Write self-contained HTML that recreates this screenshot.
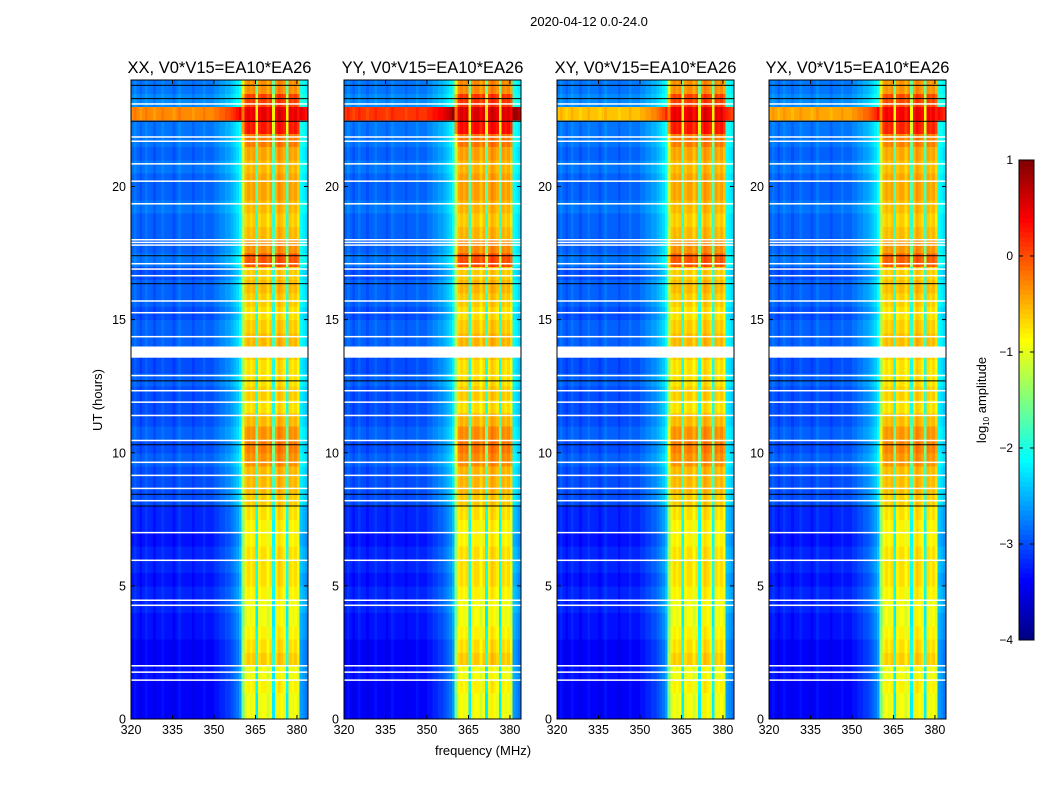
<!DOCTYPE html>
<html><head><meta charset="utf-8">
<style>
body{margin:0;background:#fff;}
svg{display:block;font-family:"Liberation Sans",sans-serif;}
</style></head>
<body>
<svg id="fig" width="1050" height="800" viewBox="0 0 1050 800">
<rect width="1050" height="800" fill="#fff"/>
<text x="589" y="26" font-size="13" text-anchor="middle">2020-04-12 0.0-24.0</text>
<text x="483" y="755" font-size="13" text-anchor="middle">frequency (MHz)</text>
<text transform="translate(102,400) rotate(-90)" font-size="13" text-anchor="middle">UT (hours)</text>
<g id="panels"></g>
<g id="cbar"></g>
<text transform="translate(986,400) rotate(-90)" font-size="13" text-anchor="middle">log<tspan font-size="8" dy="3">10</tspan><tspan dy="-3"> amplitude</tspan></text>
</svg>
<script>
// ---- data ----
const panelTitles = ["XX, V0*V15=EA10*EA26","YY, V0*V15=EA10*EA26","XY, V0*V15=EA10*EA26","YX, V0*V15=EA10*EA26"];
const panelBroad = [1.0, 1.15, 0.9, 0.95];
const panelBand = [1.0, 1.05, 1.0, 0.95];
const xTicks = [320,335,350,365,380];
const yTicks = [0,5,10,15,20];
// channel base log10 amplitude, 1 MHz channels 320..384
const chanLevel = [
-3.1,-3.0,-3.1,-3.2,-3.1,-3.0,-3.1,-3.1,-3.2,-3.1,
-3.1,-3.0,-3.1,-3.1,-3.1,-3.2,-3.1,-3.0,-3.1,-3.1,
-3.1,-3.1,-3.2,-3.1,-3.1,-3.1,-3.0,-3.1,-3.1,-3.1,
-3.0,-3.0,-2.9,-2.9,-2.8,-2.8,-2.7,-2.6,-2.5,-2.3,
-1.6,-1.0,-0.9,-1.0,-0.9,-2.2,-1.0,-0.9,-0.9,-1.1,
-0.9,-2.2,-1.0,-0.8,-0.9,-1.0,-2.2,-0.9,-1.0,-0.9,
-1.1,-2.3,-2.4,-2.5];
const isBand = [
0,0,0,0,0,0,0,0,0,0, 0,0,0,0,0,0,0,0,0,0, 0,0,0,0,0,0,0,0,0,0,
0,0,0,0,0,0,0,0,0,0, 1,1,1,1,1,1,1,1,1,1, 1,1,1,1,1,1,1,1,1,1, 1,0,0,0];
// half-hour rows 0..24 h
const rowBand = [0.0,0.0,0.1,0.0,0.3,0.2,0.1,0.0,0.0,0.1,0.2,0.2,0.2,0.1,0.1,0.2,
0.3,0.4,0.4,0.6,0.7,0.6,0.4,0.2,0.3,0.2,0.2,0.3,0.4,0.3,0.2,0.3,
0.4,0.3,0.9,0.6,0.4,0.3,0.4,0.5,0.5,0.4,0.5,0.7,1.2,1.4,1.0,0.6];
const rowBg = [-0.3,-0.3,-0.3,-0.2,-0.3,-0.3,-0.2,-0.2,-0.1,-0.1,-0.2,-0.1,-0.1,-0.2,-0.1,-0.1,
0.1,0.1,0.1,0.2,0.1,0.2,0.1,0.1,0.1,0.2,0.1,0.1,0.2,0.2,0.1,0.2,
0.2,0.1,0.3,0.2,0.2,0.2,0.3,0.2,0.2,0.3,0.2,0.3,0.3,2.8,0.4,0.3];
const flagWhite = [23.1,21.86,21.7,20.85,20.2,19.35,18.0,17.9,17.8,17.1,16.9,16.65,15.7,15.26,14.36,12.9,12.33,11.9,11.4,10.46,9.64,9.15,8.66,8.2,7.0,5.96,4.46,4.27,2.0,1.76,1.46];
const flagWhiteThick = [[13.57,0.42]];
const flagBlack = [23.8,23.3,22.45,17.4,16.35,12.7,10.3,8.44,8.0];
const cbTicks = [-4,-3,-2,-1,0,1];

// ---- helpers ----
const NS="http://www.w3.org/2000/svg";
function mk(tag,attrs,parent){const e=document.createElementNS(NS,tag);for(const k in attrs)e.setAttribute(k,attrs[k]);parent.appendChild(e);return e;}
function clamp(v){return Math.max(0,Math.min(1,v));}
function jet(v){const t=clamp((v+4)/5);const r=clamp(1.5-Math.abs(4*t-3)),g=clamp(1.5-Math.abs(4*t-2)),b=clamp(1.5-Math.abs(4*t-1));
return `rgb(${Math.round(r*255)},${Math.round(g*255)},${Math.round(b*255)})`;}
const panelsX=[131,344,557,769], PW=177, PT=80, PB=719;
const fMin=320, fMax=384, tMin=0, tMax=24;

const root=document.getElementById('panels');
panelTitles.forEach((title,p)=>{
  const x0=panelsX[p];
  const xs=f=>x0+(f-fMin)/(fMax-fMin)*PW;
  const ys=t=>PB-(t-tMin)/(tMax-tMin)*(PB-PT);
  const g=mk('g',{},root);
  
  
  const cells=mk('g',{'shape-rendering':'crispEdges'},g);
  
  
  for(let r=0;r<rowBand.length;r++){
    const t0=r*0.5,t1=t0+0.5;
    for(let c=0;c<chanLevel.length;c++){
      const f0=fMin+c,f1=f0+1;
      let v=chanLevel[c];
      if(isBand[c]) v+=rowBand[r]*panelBand[p]; else v+=rowBg[r]*(rowBg[r]>1?panelBroad[p]:1);
      const rc=mk('rect',{x:xs(f0),y:ys(t1),width:xs(f1)-xs(f0)+0.5,height:ys(t0)-ys(t1)+0.5,fill:jet(v)},cells);
      
      
    }
  }
  flagWhite.forEach(h=>{const l=mk('rect',{x:x0,y:ys(h)-0.75,width:PW,height:1.5,fill:'#fff'},g);
    
    });
  flagWhiteThick.forEach(([h,w])=>{const l=mk('rect',{x:x0,y:ys(h+w),width:PW,height:ys(h)-ys(h+w),fill:'#fff'},g);
    
    });
  flagBlack.forEach(h=>{const l=mk('rect',{x:x0,y:ys(h)-0.5,width:PW,height:1,fill:'#000'},g);
    
    });
  const fr=mk('rect',{x:x0,y:PT,width:PW,height:PB-PT,fill:'none',stroke:'#000','stroke-width':1},g);
  
  
  const tt=mk('text',{x:x0+PW/2,y:73,'font-size':16.5,'text-anchor':'middle'},g);tt.textContent=title;
  
  
  xTicks.forEach(f=>{const x=xs(f);
    mk('line',{x1:x,x2:x,y1:PB,y2:PB-4,stroke:'#000'},g);
    mk('line',{x1:x,x2:x,y1:PT,y2:PT+4,stroke:'#000'},g);
    const tx=mk('text',{x:x,y:PB+15,'font-size':12.5,'text-anchor':'middle'},g);tx.textContent=f;
    
    });
  yTicks.forEach(t=>{const y=ys(t);
    mk('line',{x1:x0,x2:x0+4,y1:y,y2:y,stroke:'#000'},g);
    mk('line',{x1:x0+PW,x2:x0+PW-4,y1:y,y2:y,stroke:'#000'},g);
    const tx=mk('text',{x:x0-5,y:y+4.5,'font-size':12.5,'text-anchor':'end'},g);tx.textContent=t;
    
    });
});

// colorbar
const cb=document.getElementById('cbar');
const cbX=1019,cbW=15,cbT=160,cbB=640;
const cys=v=>cbB-(v+4)/5*(cbB-cbT);
for(let i=0;i<100;i++){const v0=-4+i*0.05,v1=v0+0.05;
  const r=mk('rect',{x:cbX,y:cys(v1),width:cbW,height:cys(v0)-cys(v1)+0.5,fill:jet(v0+0.025),'shape-rendering':'crispEdges'},cb);
  
  }
mk('rect',{x:cbX,y:cbT,width:cbW,height:cbB-cbT,fill:'none',stroke:'#000'},cb);
cbTicks.forEach(v=>{const y=cys(v);
  mk('line',{x1:cbX,x2:cbX+4,y1:y,y2:y,stroke:'#000'},cb);
  mk('line',{x1:cbX+cbW,x2:cbX+cbW-4,y1:y,y2:y,stroke:'#000'},cb);
  const tx=mk('text',{x:cbX-6,y:y+4,'font-size':12,'text-anchor':'end'},cb);tx.textContent=(v<0?'\u2212'+(-v):v);
  
  });
</script>
</body></html>
